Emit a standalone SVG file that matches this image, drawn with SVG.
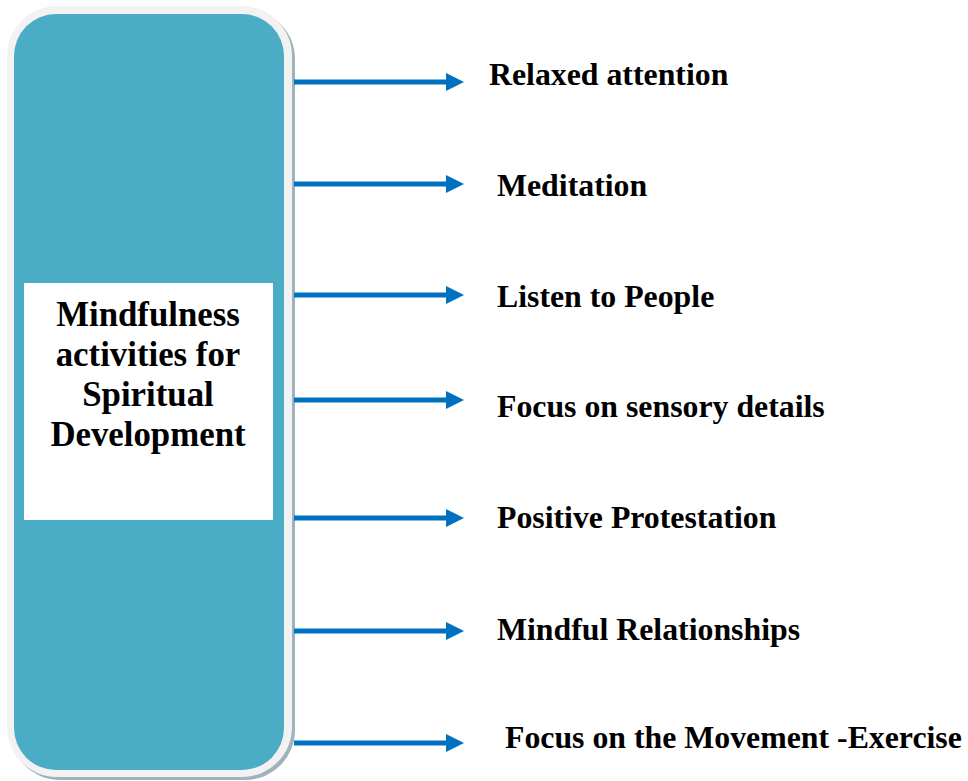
<svg xmlns="http://www.w3.org/2000/svg" width="968" height="781" viewBox="0 0 968 781">
<style>
.lbl{font-family:"Liberation Serif","Times New Roman",serif;font-weight:bold;font-size:31.8px;fill:#000}
.ctr{font-family:"Liberation Serif","Times New Roman",serif;font-weight:bold;font-size:34.8px;fill:#000}
.con line{stroke:#0070C0;stroke-width:5}
</style>
<defs>
<marker id="ah" viewBox="0 0 18 18" refX="0" refY="9" markerWidth="18" markerHeight="18" markerUnits="userSpaceOnUse" orient="auto">
<path d="M0,0 L18,9 L0,18 Z" fill="#0070C0"/>
</marker>
</defs>
<rect width="968" height="781" fill="#fff"/>
<g id="main">
<rect x="10" y="9" width="285" height="771" rx="50" fill="#9FB3BC"/>
<rect x="7" y="6" width="285" height="771" rx="50" fill="#F2F2F2"/>
<rect x="14" y="14" width="270" height="756" rx="42" fill="#4BACC6"/>
<rect x="24" y="283" width="249" height="237" fill="#fff"/>
<text class="ctr" text-anchor="middle" x="148" y="326">Mindfulness</text>
<text class="ctr" text-anchor="middle" x="148" y="366">activities for</text>
<text class="ctr" text-anchor="middle" x="148" y="406">Spiritual</text>
<text class="ctr" text-anchor="middle" x="148" y="446">Development</text>
</g>
<g class="con" id="connectors">
<line x1="294" y1="82" x2="446" y2="82" marker-end="url(#ah)"/>
<line x1="294" y1="184" x2="446" y2="184" marker-end="url(#ah)"/>
<line x1="294" y1="295" x2="446" y2="295" marker-end="url(#ah)"/>
<line x1="294" y1="400" x2="446" y2="400" marker-end="url(#ah)"/>
<line x1="294" y1="518" x2="446" y2="518" marker-end="url(#ah)"/>
<line x1="294" y1="631" x2="446" y2="631" marker-end="url(#ah)"/>
<line x1="294" y1="743" x2="446" y2="743" marker-end="url(#ah)"/>
</g>
<g id="n1"><text class="lbl" x="489" y="85">Relaxed attention</text></g>
<g id="n2"><text class="lbl" x="497" y="196">Meditation</text></g>
<g id="n3"><text class="lbl" x="497" y="307">Listen to People</text></g>
<g id="n4"><text class="lbl" x="497" y="417">Focus on sensory details</text></g>
<g id="n5"><text class="lbl" x="497" y="528">Positive Protestation</text></g>
<g id="n6"><text class="lbl" x="497" y="640">Mindful Relationships</text></g>
<g id="n7"><text class="lbl" x="505" y="748">Focus on the Movement -Exercise</text></g>
</svg>
